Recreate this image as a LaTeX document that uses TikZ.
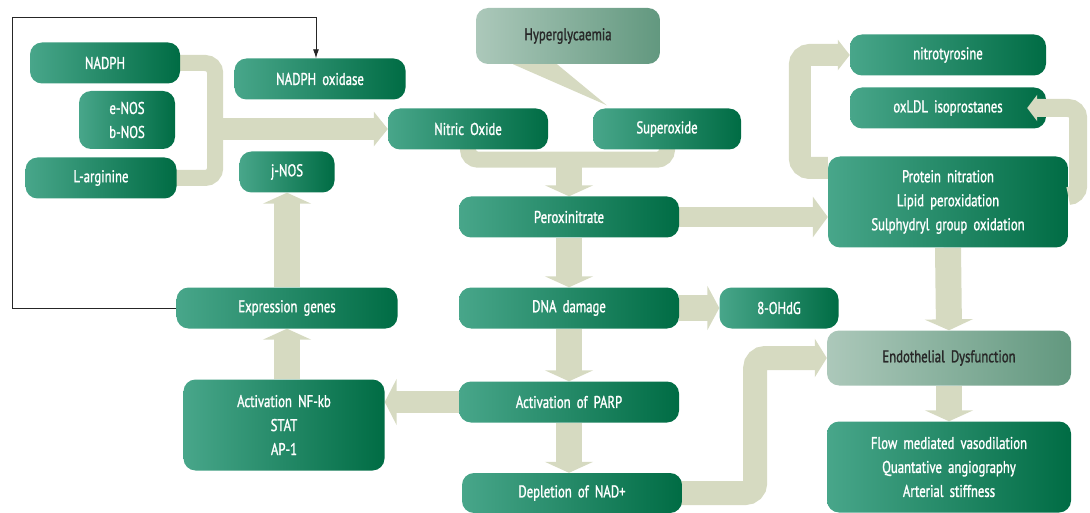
\documentclass[tikz,border=0pt]{standalone}
\usepackage{fontspec}
\setmainfont{PT Sans}[FakeStretch=0.75, WordSpace=1.8, FakeBold=1.3]
\usetikzlibrary{arrows.meta,backgrounds}
\definecolor{boxlight}{RGB}{72,166,138}
\definecolor{boxmid}{RGB}{20,135,100}
\definecolor{boxdark}{RGB}{0,108,68}
\definecolor{palelight}{RGB}{172,200,186}
\definecolor{paledark}{RGB}{98,152,127}
\definecolor{flowgrey}{RGB}{214,218,193}
\definecolor{textdark}{RGB}{40,40,40}

\tikzset{
  box/.style={rectangle, rounded corners=12pt, left color=boxlight, middle color=boxmid,
    right color=boxdark, text=white, align=center, inner sep=0pt,
    font=\fontsize{17}{24}\selectfont},
  palebox/.style={box, left color=palelight, right color=paledark, text=textdark},
  flow/.style={draw=flowgrey, line width=26pt, -{Triangle[length=11pt,width=48pt]}},
  feed/.style={draw=flowgrey, line width=18pt, rounded corners=10pt},
  wire/.style={draw=black!85, line width=0.9pt, -{Latex[length=9pt,width=6pt]}},
}

\begin{document}
\begin{tikzpicture}[x=1pt, y=-1pt]
\useasboundingbox (0,0) rectangle (1090,513);

% left column
\node[box, minimum width=150, minimum height=41] (nadph) at (105,63) {NADPH};
\node[box, minimum width=96, minimum height=58] (enos) at (127,120) {e-NOS\\b-NOS};
\node[box, minimum width=151, minimum height=41] (larg) at (101,178) {L-arginine};
\node[box, minimum width=171, minimum height=41] (oxid) at (320,79) {NADPH oxidase};
\node[box, minimum width=95, minimum height=41] (jnos) at (287,172) {j-NOS};
\node[box, minimum width=221, minimum height=41] (genes) at (287,308) {Expression genes};
\node[box, minimum width=201, minimum height=91] (nfkb) at (284,425) {Activation NF-kb\\STAT\\AP-1};

% centre column
\node[palebox, minimum width=184, minimum height=56] (hyper) at (568,36) {Hyperglycaemia};
\node[box, minimum width=160, minimum height=41] (no) at (468,129) {Nitric Oxide};
\node[box, minimum width=148, minimum height=41] (superox) at (667,129) {Superoxide};
\node[box, minimum width=220, minimum height=41] (perox) at (569,217) {Peroxinitrate};
\node[box, minimum width=220, minimum height=41] (dna) at (569,308) {DNA damage};
\node[box, minimum width=119, minimum height=41] (ohdg) at (779,308) {8-OHdG};
\node[box, minimum width=220, minimum height=41] (parp) at (569,402) {Activation of PARP};
\node[box, minimum width=220, minimum height=40] (nad) at (572,493) {Depletion of NAD+};

% right column
\node[box, minimum width=196, minimum height=41] (nitro) at (948,55) {nitrotyrosine};
\node[box, minimum width=196, minimum height=41] (oxldl) at (948,108) {oxLDL isoprostanes};
\node[box, minimum width=240, minimum height=91] (prot) at (948,202)
  {Protein nitration\\Lipid peroxidation\\Sulphydryl group oxidation};
\node[palebox, minimum width=244, minimum height=55] (endo) at (949,358) {Endothelial Dysfunction};
\node[box, minimum width=244, minimum height=91] (flowmed) at (949,467)
  {Flow mediated vasodilation\\Quantative angiography\\Arterial stiffness};

\begin{scope}[on background layer]
% substrates into nitric oxide
\draw[feed, line width=16pt] ([xshift=-5]nadph.east) -- ++(40,0) |- ([xshift=-5]larg.east);
\coordinate (nojoin) at (215,129);
\draw[flow, line width=22pt, -{Triangle[length=14pt,width=34pt]}] (nojoin) -- (no.west);

% merge into peroxinitrate
\draw[feed, line width=16pt] ([yshift=5]no.south) -- ++(0,15) -| ([yshift=5]superox.south);
\coordinate (pjoin) at (569,160);
\draw[flow] (pjoin) -- (perox.north);

% hyperglycaemia wedge
\fill[flowgrey] ([xshift=-55]hyper.south) -- ([xshift=-11]hyper.south)
  -- ([shift={(14,-3)}]superox.north west) -- cycle;

% main chain
\draw[flow, line width=20pt, -{Triangle[length=15pt,width=40pt]}] (perox.east) -- (prot.west |- perox.east);
\draw[flow] (perox.south) -- (dna.north);
\draw[flow, -{Triangle[length=12pt,width=44pt]}] (dna.east) -- (ohdg.west);
\draw[flow] (dna.south) -- (parp.north);
\draw[flow] (parp.south) -- (nad.north -| parp.south);
\draw[flow, line width=22pt, -{Triangle[length=12pt,width=46pt]}] (parp.west) -- (nfkb.east |- parp.west);
\draw[flow] (genes.south |- nfkb.north) -- (genes.south);
\draw[flow] (genes.north) -- (jnos.south);

% protein box outputs
\draw[feed, line width=22pt, -{Triangle[length=12pt,width=30pt]}] ([yshift=34]prot.west) -- ++(-28,0) |- (nitro.west);
\draw[flow] (prot.south) -- (endo.north);
\draw[flow] (endo.south) -- (flowmed.north);
\draw[feed, line width=24pt, -{Triangle[length=12pt,width=38pt]}] ([xshift=-5]nad.east) -- ++(78,0) |- (endo.west);
\end{scope}

% loop back to oxLDL
\draw[feed, -{Triangle[length=10pt,width=26pt]}] ([yshift=6]prot.east) -- ++(10,0) |- ([xshift=-19]oxldl.east);

% feedback wire to NADPH oxidase
\coordinate (loop) at (12,17);
\draw[wire] (genes.west) -| (loop) -| ([xshift=-4]oxid.north);
\end{tikzpicture}
\end{document}
